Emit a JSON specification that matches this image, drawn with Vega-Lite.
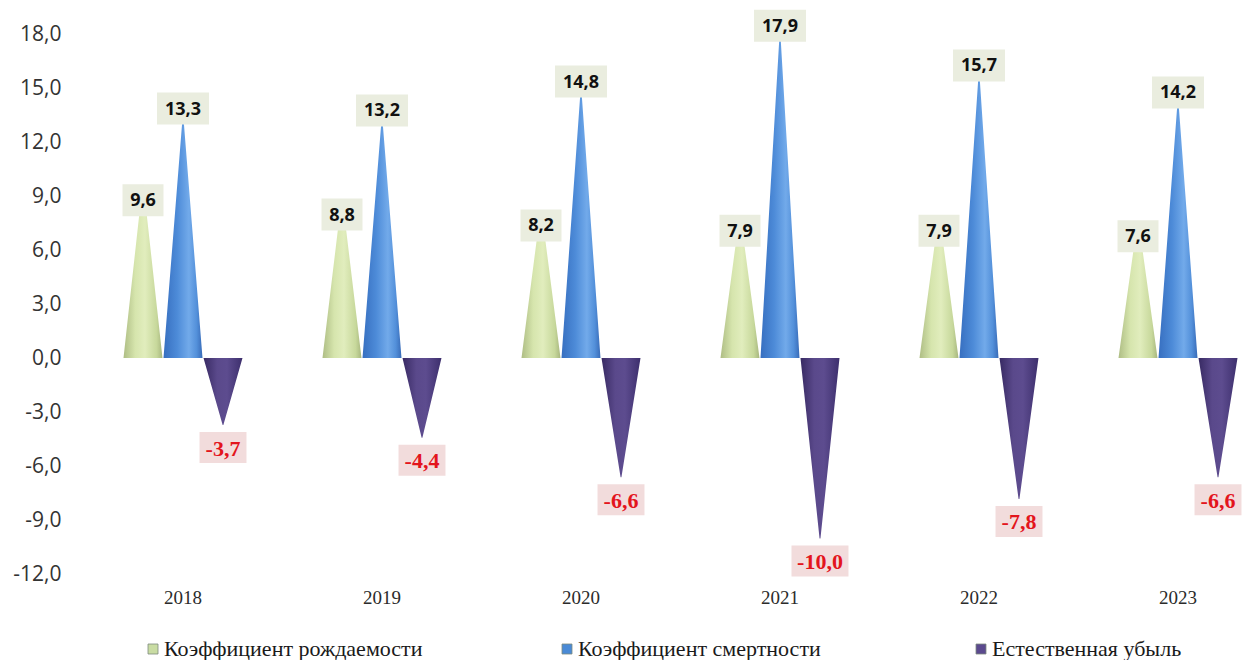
{
  "$schema": "https://vega.github.io/schema/vega-lite/v6.json",
  "autosize": {"type": "pad"},
  "padding": {"left": 12, "top": 9, "right": 0, "bottom": 0},
  "background": "white",
  "config": {
    "locale": {"number": {"decimal": ",", "thousands": "\u00a0", "grouping": [3], "currency": ["", ""], "minus": "-"}},
    "view": {"stroke": null},
    "axis": {"domain": false, "ticks": false, "grid": false, "title": null}
  },
  "data": {"values": [
    {"year": "2018", "series": "Коэффициент рождаемости", "value": 9.6},
    {"year": "2018", "series": "Коэффициент смертности", "value": 13.3},
    {"year": "2018", "series": "Естественная убыль", "value": -3.7},
    {"year": "2019", "series": "Коэффициент рождаемости", "value": 8.8},
    {"year": "2019", "series": "Коэффициент смертности", "value": 13.2},
    {"year": "2019", "series": "Естественная убыль", "value": -4.4},
    {"year": "2020", "series": "Коэффициент рождаемости", "value": 8.2},
    {"year": "2020", "series": "Коэффициент смертности", "value": 14.8},
    {"year": "2020", "series": "Естественная убыль", "value": -6.6},
    {"year": "2021", "series": "Коэффициент рождаемости", "value": 7.9},
    {"year": "2021", "series": "Коэффициент смертности", "value": 17.9},
    {"year": "2021", "series": "Естественная убыль", "value": -10.0},
    {"year": "2022", "series": "Коэффициент рождаемости", "value": 7.9},
    {"year": "2022", "series": "Коэффициент смертности", "value": 15.7},
    {"year": "2022", "series": "Естественная убыль", "value": -7.8},
    {"year": "2023", "series": "Коэффициент рождаемости", "value": 7.6},
    {"year": "2023", "series": "Коэффициент смертности", "value": 14.2},
    {"year": "2023", "series": "Естественная убыль", "value": -6.6}
  ]},
  "spacing": 0,
  "bounds": "flush",
  "resolve": {"scale": {"y": "independent"}},
  "vconcat": [
    {
      "width": 1155,
      "height": 324,
      "encoding": {
        "x": {"field": "year", "type": "ordinal", "scale": {"type": "band", "domain": ["2018", "2019", "2020", "2021", "2022", "2023"], "paddingInner": 0.397, "paddingOuter": 0.1005, "align": 1}, "axis": null},
        "xOffset": {"field": "series", "type": "nominal", "scale": {"type": "band", "domain": ["Коэффициент рождаемости", "Коэффициент смертности", "Естественная убыль"], "paddingInner": 0, "paddingOuter": 0}},
        "y": {"field": "value", "type": "quantitative", "scale": {"domain": [0, 18], "nice": false, "zero": false},
              "axis": {"values": [0, 3, 6, 9, 12, 15, 18], "format": ".1f", "labelFont": "Open Sans", "labelFontSize": 21, "labelColor": "#333333", "labelPadding": 22, "minExtent": 68, "maxExtent": 68}}
      },
      "layer": [
        {
          "transform": [
            {"filter": "datum.series !== 'Естественная убыль'"},
            {"calculate": "0", "as": "base"},
            {"fold": ["value", "base"], "as": ["key", "value"]}
          ],
          "mark": {"type": "trail", "clip": true},
          "encoding": {
            "detail": [{"field": "year", "type": "nominal"}, {"field": "series", "type": "nominal"}],
            "size": {"condition": {"test": "datum.key === 'base'", "value": 39}, "value": 0},
            "fill": {
              "condition": {"test": "datum.series === 'Коэффициент рождаемости'", "value": {"gradient": "linear", "x1": 0, "y1": 0, "x2": 1, "y2": 0, "stops": [
                {"offset": 0, "color": "#aebd84"}, {"offset": 0.3, "color": "#d6e5ad"}, {"offset": 0.55, "color": "#e1edbd"}, {"offset": 0.85, "color": "#c7d89b"}, {"offset": 1, "color": "#a7b67e"}]}},
              "value": {"gradient": "linear", "x1": 0, "y1": 0, "x2": 1, "y2": 0, "stops": [
                {"offset": 0, "color": "#376fc0"}, {"offset": 0.35, "color": "#4d8bd8"}, {"offset": 0.65, "color": "#72aaea"}, {"offset": 0.85, "color": "#5390da"}, {"offset": 1, "color": "#386bb8"}]}
            }
          }
        },
        {
          "transform": [{"filter": "datum.series === 'Коэффициент рождаемости'"}],
          "mark": {"type": "point", "filled": true, "opacity": 1, "fill": "#eaeddf", "strokeWidth": 0, "size": 3600, "shape": "M-0.683,-0.533H0.683V0.533H-0.683Z", "yOffset": 15}
        },
        {
          "transform": [{"filter": "datum.series === 'Коэффициент рождаемости'"}],
          "mark": {"type": "text", "font": "Open Sans", "fontWeight": "bold", "fontSize": 18, "color": "#111111", "baseline": "middle", "align": "center", "yOffset": 16},
          "encoding": {"text": {"field": "value", "type": "quantitative", "format": ".1f"}}
        },
        {
          "transform": [{"filter": "datum.series === 'Коэффициент смертности'"}],
          "mark": {"type": "point", "filled": true, "opacity": 1, "fill": "#eaeddf", "strokeWidth": 0, "size": 3600, "shape": "M-0.867,-0.533H0.867V0.533H-0.867Z", "yOffset": -10}
        },
        {
          "transform": [{"filter": "datum.series === 'Коэффициент смертности'"}],
          "mark": {"type": "text", "font": "Open Sans", "fontWeight": "bold", "fontSize": 18, "color": "#111111", "baseline": "middle", "align": "center", "yOffset": -9},
          "encoding": {"text": {"field": "value", "type": "quantitative", "format": ".1f"}}
        }
      ]
    },
    {
      "width": 1155,
      "height": 216,
      "encoding": {
        "x": {"field": "year", "type": "ordinal", "scale": {"type": "band", "domain": ["2018", "2019", "2020", "2021", "2022", "2023"], "paddingInner": 0.397, "paddingOuter": 0.1005, "align": 1},
              "axis": {"labelFont": "Liberation Serif", "labelFontSize": 19, "labelColor": "#2b2b2b", "labelPadding": 14, "labelAngle": 0}},
        "xOffset": {"field": "series", "type": "nominal", "scale": {"type": "band", "domain": ["Коэффициент рождаемости", "Коэффициент смертности", "Естественная убыль"], "paddingInner": 0, "paddingOuter": 0}},
        "y": {"field": "value", "type": "quantitative", "scale": {"domain": [-12, 0], "nice": false, "zero": false},
              "axis": {"values": [-3, -6, -9, -12], "format": ".1f", "labelFont": "Open Sans", "labelFontSize": 21, "labelColor": "#333333", "labelPadding": 22, "minExtent": 68, "maxExtent": 68}}
      },
      "layer": [
        {
          "transform": [
            {"filter": "datum.series === 'Естественная убыль'"},
            {"calculate": "0", "as": "base"},
            {"fold": ["value", "base"], "as": ["key", "value"]}
          ],
          "mark": {"type": "trail", "clip": true},
          "encoding": {
            "detail": [{"field": "year", "type": "nominal"}, {"field": "series", "type": "nominal"}],
            "size": {"condition": {"test": "datum.key === 'base'", "value": 39}, "value": 0},
            "fill": {"value": {"gradient": "linear", "x1": 0, "y1": 0, "x2": 1, "y2": 0, "stops": [
              {"offset": 0, "color": "#382a63"}, {"offset": 0.35, "color": "#5a498b"}, {"offset": 0.6, "color": "#5d4c8f"}, {"offset": 1, "color": "#3d2f6d"}]}}
          }
        },
        {
          "transform": [{"filter": "datum.series === 'Естественная убыль'"}],
          "mark": {"type": "point", "filled": true, "opacity": 1, "fill": "#f2dcdc", "strokeWidth": 0, "size": 3600, "yOffset": 23},
          "encoding": {
            "shape": {"condition": {"test": "datum.value < -9.9", "value": "M-0.95,-0.517H0.95V0.517H-0.95Z"}, "value": "M-0.783,-0.517H0.783V0.517H-0.783Z"}
          }
        },
        {
          "transform": [{"filter": "datum.series === 'Естественная убыль'"}],
          "mark": {"type": "text", "font": "Liberation Serif", "fontWeight": "bold", "fontSize": 22, "color": "#e3151d", "baseline": "middle", "align": "center", "yOffset": 24},
          "encoding": {"text": {"field": "value", "type": "quantitative", "format": ".1f"}}
        },
        {
          "mark": {"type": "square", "opacity": 0},
          "encoding": {
            "y": {"value": 100},
            "color": {"field": "series", "type": "nominal",
              "scale": {"domain": ["Коэффициент рождаемости", "Коэффициент смертности", "Естественная убыль"], "range": ["#c9dca3", "#4a8ad6", "#5b4a8e"]},
              "legend": {"orient": "none", "legendX": 59, "legendY": 604, "direction": "horizontal", "columns": 3, "gridAlign": "all", "title": null,
                "symbolType": "square", "symbolSize": 100, "symbolOpacity": 1, "symbolStrokeColor": "#7d8a7d", "symbolStrokeWidth": 0.8,
                "labelFont": "Liberation Serif", "labelFontSize": 22, "labelColor": "#1a1a1a", "labelOffset": 0, "labelLimit": 500,
                "columnPadding": 133, "padding": 0}}
          }
        }
      ]
    }
  ]
}
